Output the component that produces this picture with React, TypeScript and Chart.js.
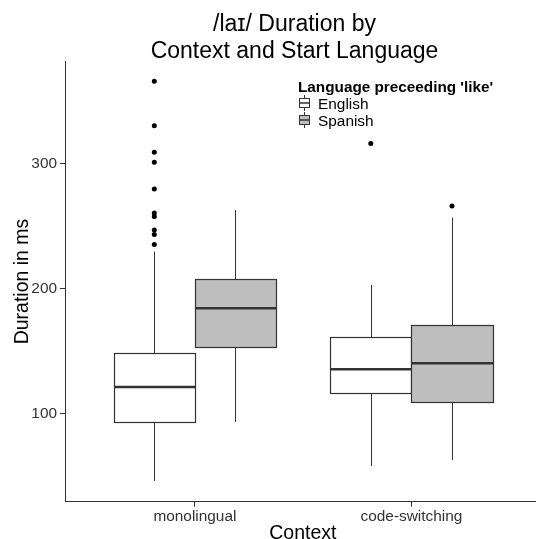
import { useEffect, useRef } from 'react';
import { Chart, registerables } from 'chart.js';

Chart.register(...registerables);

// Categories and tick values
const contexts = ['monolingual', 'code-switching'];
const languages = ['English', 'Spanish'];
const yTicks = [100, 200, 300];

// Box statistics per context (ms), English start
const englishLow = [45.8, 57.8];
const englishQ1 = [93.1, 116.3];
const englishMedian = [121.2, 135.3];
const englishQ3 = [148.2, 161.5];
const englishHigh = [229.7, 203.0];
const englishOutliers = [
  [366.4, 330.7, 309.4, 301.4, 280.0, 260.6, 257.8, 247.1, 243.5, 235.5],
  [316.4],
];

// Box statistics per context (ms), Spanish start
const spanishLow = [93.1, 62.6];
const spanishQ1 = [153.5, 109.1];
const spanishMedian = [184.3, 140.2];
const spanishQ3 = [207.8, 170.6];
const spanishHigh = [263.0, 257.0];
const spanishOutliers: number[][] = [[], [266.3]];

const series = [
  { low: englishLow, q1: englishQ1, med: englishMedian, q3: englishQ3, high: englishHigh, out: englishOutliers },
  { low: spanishLow, q1: spanishQ1, med: spanishMedian, q3: spanishQ3, high: spanishHigh, out: spanishOutliers },
];

const FONT = '"Liberation Sans", Arial, Helvetica, sans-serif';
const INK = '#333333';
const fills = ['#ffffff', '#bebebe'];
const dodge = [-0.1875, 0.1875];
const boxWidth = 0.375;

const boxplotPlugin = {
  id: 'boxplots',
  beforeDatasetsDraw(chart: any) {
    const { ctx } = chart;
    const x = chart.scales.x;
    const y = chart.scales.y;
    ctx.save();
    series.forEach((s, li) => {
      contexts.forEach((_, ci) => {
        const c = ci + 1 + dodge[li];
        const cx = Math.round(x.getPixelForValue(c)) + 0.5;
        const left = Math.round(x.getPixelForValue(c - boxWidth / 2)) + 0.5;
        const right = Math.round(x.getPixelForValue(c + boxWidth / 2)) + 0.5;
        const pLow = y.getPixelForValue(s.low[ci]);
        const pQ1 = Math.round(y.getPixelForValue(s.q1[ci])) + 0.5;
        const pMed = y.getPixelForValue(s.med[ci]);
        const pQ3 = Math.round(y.getPixelForValue(s.q3[ci])) + 0.5;
        const pHigh = y.getPixelForValue(s.high[ci]);

        ctx.strokeStyle = INK;
        ctx.lineWidth = 1;
        ctx.beginPath();
        ctx.moveTo(cx, pHigh);
        ctx.lineTo(cx, pQ3);
        ctx.moveTo(cx, pQ1);
        ctx.lineTo(cx, pLow);
        ctx.stroke();

        ctx.fillStyle = fills[li];
        ctx.fillRect(left, pQ3, right - left, pQ1 - pQ3);
        ctx.lineWidth = 1.2;
        ctx.strokeRect(left, pQ3, right - left, pQ1 - pQ3);

        ctx.lineWidth = 2.5;
        ctx.beginPath();
        ctx.moveTo(left, pMed);
        ctx.lineTo(right, pMed);
        ctx.stroke();
      });
    });
    ctx.restore();
  },
  afterDraw(chart: any) {
    const { ctx, chartArea } = chart;
    ctx.save();
    ctx.fillStyle = '#000';
    ctx.textBaseline = 'alphabetic';

    // Title
    ctx.font = `23px ${FONT}`;
    ctx.textAlign = 'center';
    ctx.fillText('/laɪ/ Duration by', 294.5, 31);
    ctx.fillText('Context and Start Language', 294.5, 58);

    // Axis titles
    ctx.font = `19.5px ${FONT}`;
    ctx.fillText('Context', (chartArea.left + 540.6) / 2, 538.5);
    ctx.save();
    ctx.translate(27.5, 281.5);
    ctx.rotate(-Math.PI / 2);
    ctx.fillText('Duration in ms', 0, 0);
    ctx.restore();

    // Legend
    ctx.textAlign = 'left';
    ctx.font = `bold 15.3px ${FONT}`;
    ctx.fillText("Language preceeding 'like'", 298, 92);
    ctx.font = `15.4px ${FONT}`;
    languages.forEach((lang, li) => {
      const cy = 103 + li * 17;
      const kx0 = 299.5;
      const kx1 = 309.5;
      const kc = 304.5;
      ctx.strokeStyle = INK;
      ctx.lineWidth = 1;
      ctx.beginPath();
      ctx.moveTo(kc, cy - 8);
      ctx.lineTo(kc, cy - 4.5);
      ctx.moveTo(kc, cy + 4.5);
      ctx.lineTo(kc, cy + 8);
      ctx.stroke();
      ctx.fillStyle = fills[li];
      ctx.fillRect(kx0, cy - 4.5, kx1 - kx0, 9);
      ctx.strokeRect(kx0, cy - 4.5, kx1 - kx0, 9);
      ctx.lineWidth = 1.5;
      ctx.beginPath();
      ctx.moveTo(kx0, cy);
      ctx.lineTo(kx1, cy);
      ctx.stroke();
      ctx.fillStyle = '#000';
      ctx.fillText(lang, 318, cy + 5.5);
    });
    ctx.restore();
  },
};

export default function App() {
  const canvasRef = useRef<HTMLCanvasElement | null>(null);

  useEffect(() => {
    document.body.style.margin = '0';
    const canvas = canvasRef.current;
    if (!canvas) return;

    const tickFont = { family: FONT, size: 15.4 };
    const chart = new Chart(canvas, {
      type: 'scatter',
      data: {
        datasets: languages.map((lang, li) => ({
          label: lang,
          data: series[li].out.flatMap((vals, ci) =>
            vals.map((v) => ({ x: ci + 1 + dodge[li], y: v }))
          ),
          pointRadius: 2.5,
          pointHoverRadius: 2.5,
          pointBackgroundColor: '#000',
          pointBorderWidth: 0,
        })),
      },
      options: {
        animation: false,
        responsive: false,
        devicePixelRatio: 1,
        events: [],
        layout: { autoPadding: false, padding: { top: 61, left: 0, right: 0, bottom: 0 } },
        plugins: {
          legend: { display: false },
          title: { display: false },
          tooltip: { enabled: false },
        },
        scales: {
          x: {
            type: 'linear',
            min: 0.4,
            max: 2.5755,
            afterBuildTicks: (s: any) => {
              s.ticks = contexts.map((_, i) => ({ value: i + 1 }));
            },
            afterFit: (s: any) => {
              s.height = 37.3;
              s.paddingLeft = 0;
              s.paddingRight = 0;
            },
            ticks: {
              callback: (v: any) => contexts[Number(v) - 1] ?? '',
              font: tickFont,
              color: INK,
              padding: 1,
              maxRotation: 0,
              autoSkip: false,
            },
            grid: { drawOnChartArea: false, tickLength: 5, color: INK },
            border: { color: INK, width: 1 },
          },
          y: {
            type: 'linear',
            min: 29.1,
            max: 382.6,
            afterBuildTicks: (s: any) => {
              s.ticks = yTicks.map((v) => ({ value: v }));
            },
            afterFit: (s: any) => {
              s.width = 65;
              s.paddingTop = 0;
              s.paddingBottom = 0;
            },
            ticks: { font: tickFont, color: INK, padding: 3 },
            grid: { drawOnChartArea: false, tickLength: 5, color: INK },
            border: { color: INK, width: 1 },
          },
        },
      },
      plugins: [boxplotPlugin],
    });

    return () => chart.destroy();
  }, []);

  return (
    <div style={{ width: 536, height: 539 }}>
      <canvas ref={canvasRef} width={536} height={539} />
    </div>
  );
}
